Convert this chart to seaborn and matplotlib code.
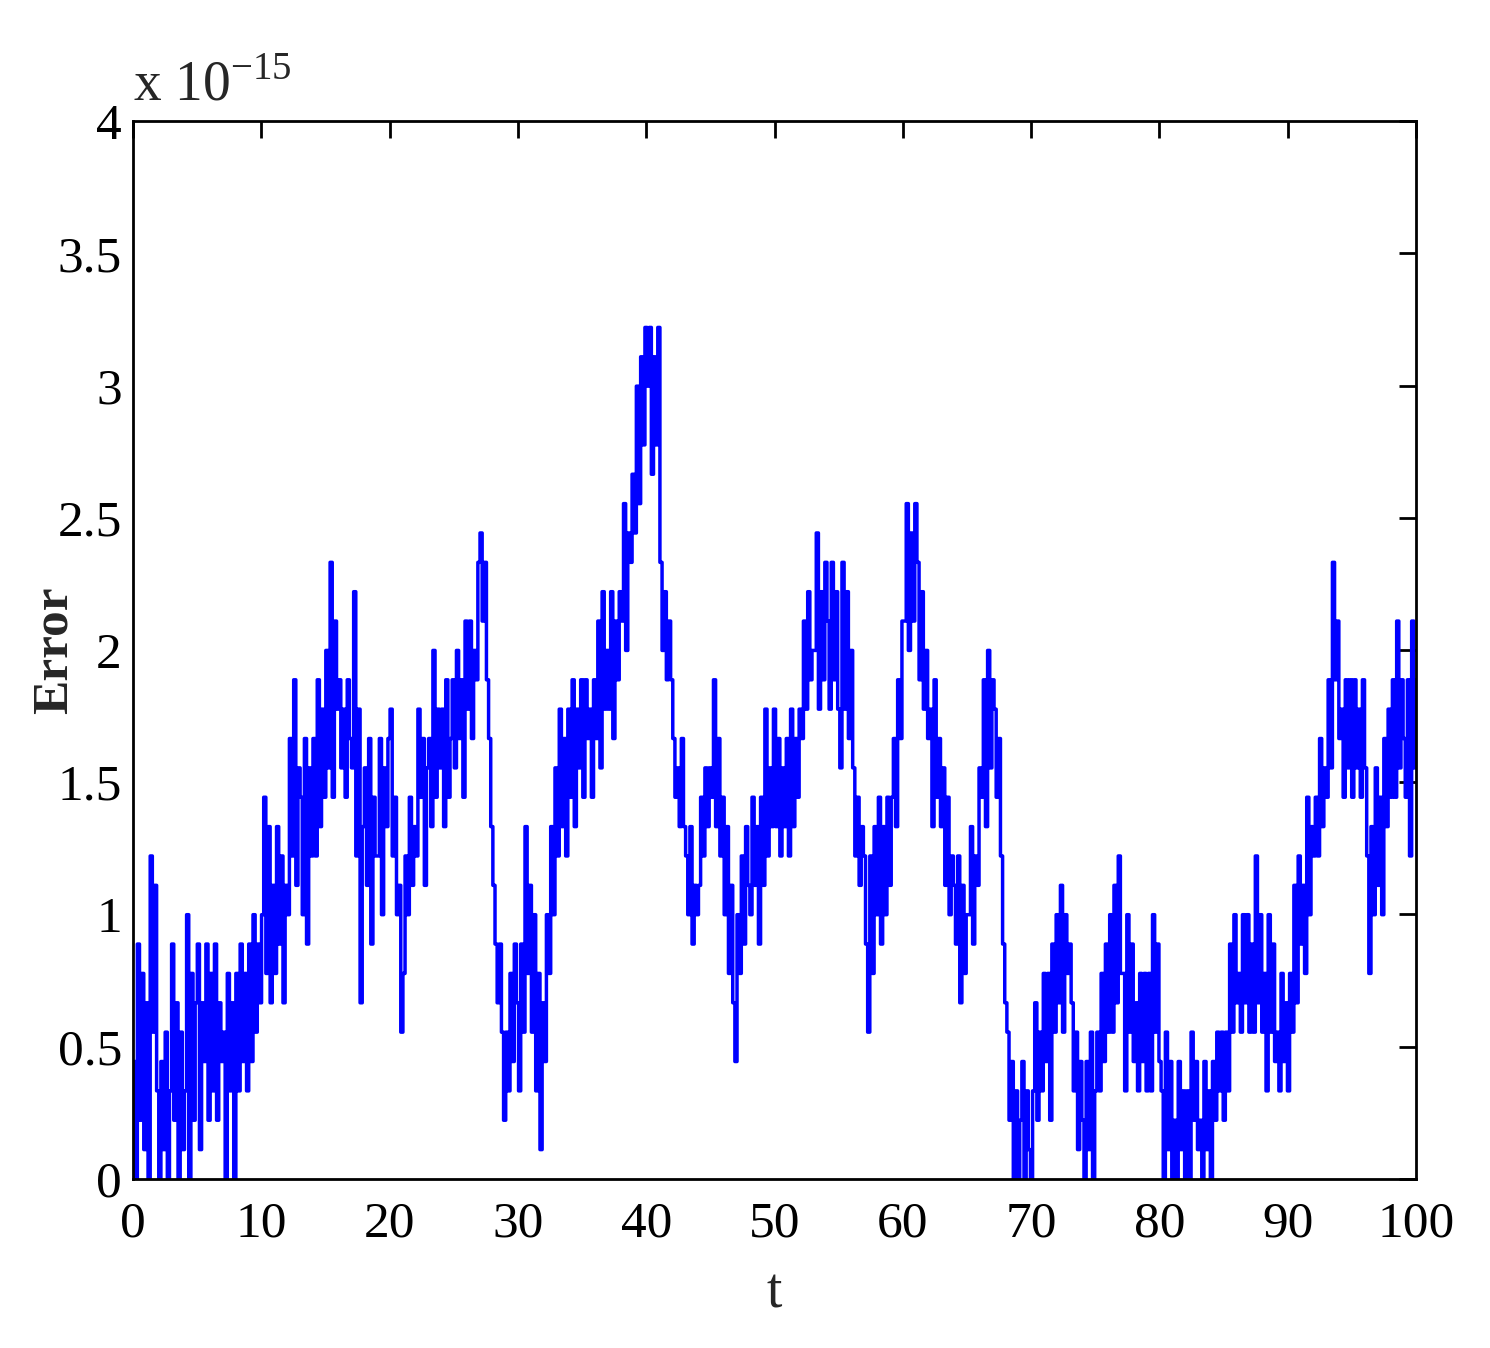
import matplotlib
matplotlib.use("Agg")
import matplotlib.pyplot as plt
import numpy as np
import pandas as pd
import seaborn as sb

# error, in steps of eps/2 (about 1.11e-16), six readings per unit of t
err_00_10 = [4, 0, 8, 2, 7, 1, 6, 0, 11, 5, 10, 3, 0, 4, 1, 5, 0, 3, 8, 2, 6, 0, 5, 1,
             3, 9, 0, 7, 2, 6, 8, 1, 6, 4, 8, 2, 7, 3, 8, 2, 6, 4, 5, 0, 7, 3, 6, 0,
             7, 3, 8, 4, 7, 3, 8, 4, 9, 5, 8, 6]
err_10_20 = [9, 13, 7, 12, 6, 10, 7, 12, 8, 11, 6, 10, 9, 15, 11, 17, 10, 14, 13, 9, 15, 8, 14, 11,
             15, 11, 17, 12, 16, 13, 18, 14, 21, 13, 19, 16, 17, 14, 16, 13, 17, 15, 14, 20, 11, 16, 6, 12,
             14, 10, 15, 8, 13, 11, 11, 15, 9, 14, 12, 15]
err_20_30 = [16, 11, 13, 9, 10, 5, 7, 11, 9, 13, 10, 12, 11, 16, 13, 15, 10, 14, 15, 12, 18, 13, 16, 14,
             16, 12, 17, 13, 15, 17, 14, 18, 15, 17, 13, 19, 16, 19, 15, 18, 17, 21, 22, 19, 21, 17, 15, 12,
             10, 8, 6, 8, 5, 2, 5, 3, 7, 4, 8, 6]
err_30_40 = [3, 8, 5, 12, 7, 10, 5, 9, 3, 7, 1, 6, 4, 9, 7, 12, 9, 14, 11, 16, 12, 15, 11, 16,
             13, 17, 12, 16, 14, 17, 13, 17, 15, 16, 13, 17, 15, 19, 14, 20, 16, 18, 16, 20, 15, 19, 17, 20,
             19, 23, 18, 22, 21, 24, 22, 27, 23, 28, 25, 29]
err_40_50 = [27, 29, 24, 28, 25, 29, 21, 18, 20, 17, 19, 17, 15, 13, 14, 12, 15, 12, 11, 9, 12, 8, 10, 9,
             10, 13, 11, 14, 12, 14, 13, 17, 12, 15, 11, 13, 9, 12, 7, 10, 6, 4, 9, 7, 11, 8, 12, 10,
             9, 13, 10, 12, 8, 13, 10, 16, 11, 14, 12, 16]
err_50_60 = [12, 15, 11, 14, 12, 15, 11, 16, 12, 15, 13, 16, 15, 19, 16, 20, 17, 18, 18, 22, 16, 20, 17, 21,
             19, 16, 21, 17, 20, 16, 14, 21, 16, 20, 15, 18, 14, 11, 13, 10, 12, 11, 8, 5, 11, 7, 12, 9,
             13, 8, 12, 9, 13, 10, 13, 15, 12, 17, 15, 19]
err_60_70 = [19, 23, 18, 22, 19, 23, 21, 17, 20, 16, 18, 15, 16, 12, 17, 13, 15, 12, 14, 10, 13, 9, 11, 10,
             8, 11, 6, 10, 7, 9, 9, 12, 8, 11, 10, 14, 13, 17, 12, 18, 14, 17, 16, 13, 15, 11, 8, 6,
             5, 2, 4, 0, 3, 0, 2, 4, 0, 3, 1, 0]
err_70_80 = [3, 6, 2, 5, 3, 7, 4, 7, 2, 8, 5, 9, 6, 10, 5, 9, 7, 8, 6, 3, 5, 1, 4, 2,
             0, 4, 1, 5, 0, 3, 5, 3, 7, 4, 8, 5, 9, 5, 10, 6, 11, 7, 7, 3, 9, 5, 8, 4,
             6, 3, 7, 4, 7, 3, 7, 3, 9, 5, 8, 4]
err_80_90 = [3, 0, 5, 1, 4, 0, 2, 0, 4, 1, 3, 0, 3, 0, 5, 2, 4, 1, 2, 0, 4, 1, 3, 0,
             4, 2, 5, 3, 5, 2, 5, 3, 8, 5, 9, 6, 7, 5, 9, 6, 9, 5, 8, 5, 11, 6, 9, 5,
             7, 3, 9, 5, 8, 4, 5, 3, 7, 4, 6, 3]
err_90_100 = [7, 5, 10, 6, 11, 8, 10, 7, 13, 9, 12, 11, 13, 11, 15, 12, 14, 13, 17, 14, 21, 17, 19, 15,
              16, 13, 17, 14, 17, 13, 17, 14, 16, 13, 17, 14, 11, 7, 12, 9, 14, 10, 13, 9, 15, 12, 16, 13,
              17, 13, 19, 14, 17, 15, 13, 17, 11, 19, 14, 17]

x_ticks = [0, 10, 20, 30, 40, 50, 60, 70, 80, 90, 100]
y_ticks = [0, 0.5, 1, 1.5, 2, 2.5, 3, 3.5, 4]
y_tick_labels = ["0", "0.5", "1", "1.5", "2", "2.5", "3", "3.5", "4"]

quanta = np.array(err_00_10 + err_10_20 + err_20_30 + err_30_40 + err_40_50
                  + err_50_60 + err_60_70 + err_70_80 + err_80_90 + err_90_100)
# values in units of 1e-15
dfErr = pd.DataFrame({"t": np.linspace(0, 100, len(quanta)),
                      "err": quanta * 2.220446049250313e-16 / 2 * 1e15})

sb.set_style("white")
plt.rcParams['font.family'] = ['Liberation Serif', 'DejaVu Serif']
plt.rcParams['mathtext.fontset'] = 'custom'
plt.rcParams['mathtext.rm'] = 'Liberation Serif'

fig = plt.figure(figsize=(14.9, 13.48), dpi=100)
ax = fig.add_axes([0.0893, 0.1254, 0.8610, 0.7848])

sb.lineplot(data=dfErr, x="t", y="err", color="#0000ff", linewidth=2.5,
            estimator=None, sort=False, drawstyle='steps-post', ax=ax)

ax.set_xlim(0, 100)
ax.set_ylim(0, 4)
ax.set_xticks(x_ticks)
ax.set_xticklabels([str(v) for v in x_ticks])
ax.set_yticks(y_ticks)
ax.set_yticklabels(y_tick_labels)
ax.tick_params(direction='in', length=12, width=2, labelsize=37, top=True, right=True,
               colors='black')
ax.tick_params(axis='x', pad=16)
ax.tick_params(axis='y', pad=8)
for s in ax.spines.values():
    s.set_linewidth(2)
    s.set_color('black')

ax.set_xlabel("t", fontsize=40, labelpad=14)
ax.set_ylabel("Error", fontsize=37, fontweight='bold')
ax.yaxis.set_label_coords(-0.043, 0.5)
ax.text(0.0, 1.008, r"x 10$^{-15}$", transform=ax.transAxes, fontsize=40,
        ha='left', va='bottom')

fig.savefig("out.png", dpi=100, facecolor='white')
